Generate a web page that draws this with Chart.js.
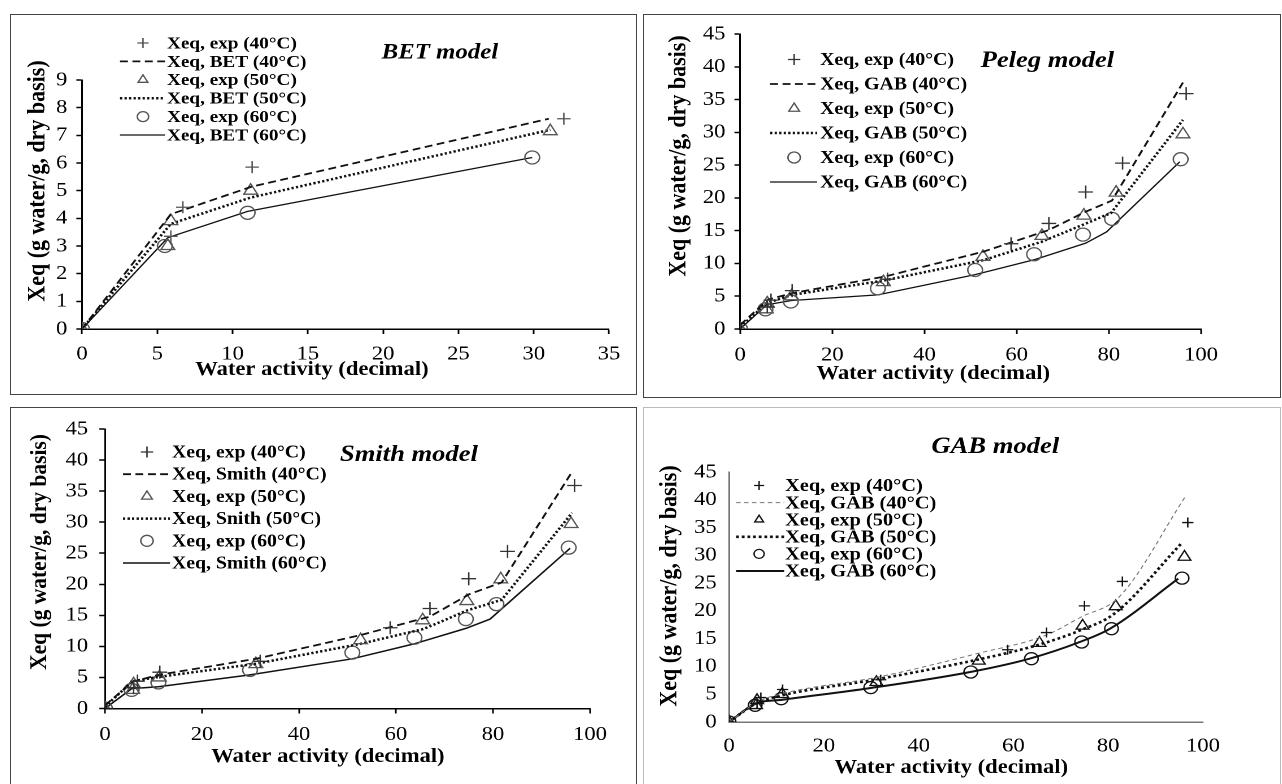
<!DOCTYPE html>
<html>
<head>
<meta charset="utf-8">
<script src="https://cdn.jsdelivr.net/npm/chart.js"></script>
<style>
body { margin: 0; background: #fff; width: 1282px; height: 784px; overflow: hidden; position: relative; }
canvas { position: absolute; }
.frame { position: absolute; box-sizing: border-box; pointer-events: none; }
</style>
</head>
<body>
<canvas id="betChart"></canvas>
<canvas id="pelegChart"></canvas>
<canvas id="smithChart"></canvas>
<canvas id="gabChart"></canvas>
<div class="frame" style="left:10px;top:14px;width:627px;height:381px;border:1.5px solid #444;"></div>
<div class="frame" style="left:643px;top:14px;width:638px;height:384px;border:1.5px solid #444;"></div>
<div class="frame" style="left:10px;top:407px;width:627px;height:383px;border:1.5px solid #444;"></div>
<div class="frame" style="left:643px;top:407px;width:638px;height:383px;border:1.5px solid #bbb;"></div>
<script>
// experimental points (same measurements in every panel)
const aw40 = [0, 5.9, 6.7, 11.3, 32, 58.8, 67, 75, 83, 96.8];
const xeq40 = [0, 3.35, 4.4, 5.85, 7.6, 13.0, 16.1, 20.9, 25.3, 35.9];
const aw50 = [0, 5.7, 5.9, 11.2, 31.1, 52.7, 65.5, 74.6, 81.6, 96.1];
const xeq50 = [0, 3.0, 3.9, 5.0, 7.15, 11.0, 14.2, 17.3, 20.8, 29.7];
const aw60 = [0, 5.5, 11.0, 29.9, 51.0, 63.8, 74.4, 80.7, 95.6];
const xeq60 = [0, 3.0, 4.2, 6.2, 9.0, 11.4, 14.4, 16.8, 25.9];

// BET model curves
const betAw40 = [0, 5.9, 11.3, 31];
const bet40 = [0, 4.15, 5.15, 7.6];
const betAw50 = [0, 5.9, 11.2, 31.1];
const bet50 = [0, 3.8, 4.75, 7.2];
const betAw60 = [0, 5.7, 11.0, 29.9];
const bet60 = [0, 3.3, 4.25, 6.2];

// Peleg model curves (labelled GAB in the figure)
const pelAw40 = [0, 6.1, 11.5, 31.4, 52.8, 67, 75, 80.7, 96.1];
const pel40 = [0.6, 4.5, 5.5, 8.0, 11.8, 15.1, 17.9, 19.6, 37.6];
const pelAw50 = [0, 6, 11.2, 31.2, 52.8, 65.4, 74.4, 80.5, 96.1];
const pel50 = [0.3, 4.0, 5.2, 7.4, 10.5, 13.3, 15.9, 17.7, 31.9];
const pelAw60 = [0, 5.8, 11.2, 29.9, 51, 64, 75, 79.5, 95.4];
const pel60 = [0, 3.7, 4.35, 5.2, 8.3, 10.6, 13.1, 14.8, 25.5];

// Smith model curves
const smAw40 = [0, 5.7, 11, 31.1, 52.6, 67, 75.1, 81.8, 96.3];
const sm40 = [0.5, 4.3, 5.4, 8.0, 11.8, 14.8, 18.4, 20.3, 38.1];
const smAw50 = [0, 5.7, 11.2, 31.1, 52.6, 65.7, 74.7, 81.8, 96.3];
const sm50 = [0.3, 4.4, 5.1, 7.2, 10.4, 12.8, 15.8, 17.5, 31.5];
const smAw60 = [0, 5.5, 11, 29.7, 51, 63.7, 74.4, 79.4, 95.9];
const sm60 = [0, 3.2, 3.5, 5.4, 8.0, 10.4, 12.9, 14.4, 25.8];

// GAB model curves
const gabAw40 = [0, 6, 11.2, 31.5, 52.3, 66.8, 74.3, 82.3, 96.3];
const gab40 = [0, 3.6, 5.1, 8.1, 12.3, 15.6, 18.9, 22.5, 40.6];
const gabAw50 = [0, 5.6, 11.2, 30.6, 52.3, 64.9, 74.1, 81.3, 95.4];
const gab50 = [0, 3.3, 4.8, 7.6, 11.2, 13.8, 16.5, 19.5, 32.1];
const gabAw60 = [0, 5.6, 11.2, 29.7, 50.9, 63.4, 74.0, 80.4, 94.8];
const gab60 = [0, 3.3, 4.0, 6.1, 9.0, 11.4, 14.4, 16.8, 25.8];

const SERIF = '"Liberation Serif", "Times New Roman", serif';
// the scanned figure is a little wider than tall, so each canvas is stretched sideways
const SX = 1.13;

function pts(xs, ys, maxX) {
    const out = [];
    xs.forEach((x, i) => { if (maxX === undefined || x <= maxX) out.push({ x: x, y: ys[i] }); });
    return out;
}

function drawMarker(ctx, style, x, y, r) {
    ctx.beginPath();
    if (style === "cross") {
        ctx.moveTo(x - r, y); ctx.lineTo(x + r, y);
        ctx.moveTo(x, y - r); ctx.lineTo(x, y + r);
    } else if (style === "triangle") {
        ctx.moveTo(x, y - r);
        ctx.lineTo(x + r * 0.866, y + r * 0.5);
        ctx.lineTo(x - r * 0.866, y + r * 0.5);
        ctx.closePath();
    } else {
        ctx.arc(x, y, r, 0, Math.PI * 2);
    }
    ctx.stroke();
}

// legend, model name and axis titles, positions given in page pixels
const panelText = {
    id: "panelText",
    afterDraw(chart, args, o) {
        const ctx = chart.ctx;
        const X = (px) => (px - o.box.x) / SX;
        const Y = (py) => py - o.box.y;
        ctx.save();
        ctx.fillStyle = "#000";
        ctx.textBaseline = "middle";

        // model name
        ctx.font = "italic bold " + o.titleSize + "px " + SERIF;
        ctx.textAlign = "center";
        ctx.fillText(o.title, X(o.titleX), Y(o.titleY));

        // axis titles
        ctx.font = "bold " + o.xTitleSize + "px " + SERIF;
        ctx.fillText("Water activity (decimal)", X(o.xTitleX), Y(o.xTitleY));
        ctx.save();
        ctx.font = "bold " + o.yTitleSize + "px " + SERIF;
        ctx.translate(X(o.yTitleX), Y(o.yTitleY));
        ctx.rotate(-Math.PI / 2);
        ctx.fillText("Xeq (g water/g, dry basis)", 0, 0);
        ctx.restore();

        // legend
        const lg = o.legend;
        ctx.font = "bold " + lg.size + "px " + SERIF;
        ctx.textAlign = "left";
        chart.data.datasets.forEach((ds, i) => {
            const y = Y(lg.y + i * lg.rowH);
            ctx.save();
            ctx.strokeStyle = ds.borderColor;
            if (ds.showLine) {
                ctx.lineWidth = ds.borderWidth;
                ctx.setLineDash(ds.borderDash || []);
                ctx.beginPath();
                ctx.moveTo(X(lg.lineX0), y);
                ctx.lineTo(X(lg.lineX1), y);
                ctx.stroke();
            } else {
                ctx.lineWidth = ds.pointBorderWidth;
                drawMarker(ctx, ds.pointStyle, X(lg.markerX), y, lg.markerR);
            }
            ctx.restore();
            ctx.fillText(ds.label, X(lg.textX), y + 1);
        });
        ctx.restore();
    },
};

function expSet(label, data, style, r, color) {
    return {
        label: label, data: data, showLine: false,
        pointStyle: style, pointRadius: r, pointBorderWidth: 1.3,
        pointBorderColor: color, borderColor: color, backgroundColor: "rgba(0,0,0,0)",
    };
}

function modelSet(label, data, dash, width, color, smooth) {
    return {
        label: label, data: data, showLine: true, pointRadius: 0,
        borderColor: color, borderWidth: width, borderDash: dash,
        cubicInterpolationMode: smooth ? "monotone" : "default", tension: 0,
    };
}

function makeChart(cfg) {
    const canvas = document.getElementById(cfg.id);
    const box = cfg.box, plot = cfg.plot;
    canvas.style.left = box.x + "px";
    canvas.style.top = box.y + "px";
    canvas.style.width = box.w + "px";
    canvas.style.height = box.h + "px";
    canvas.width = Math.round(box.w / SX);
    canvas.height = box.h;

    const xAxisH = 40;
    const axisColor = cfg.axisColor;
    new Chart(canvas, {
        type: "scatter",
        data: { datasets: cfg.datasets },
        options: {
            responsive: false,
            animation: false,
            devicePixelRatio: 2,
            events: [],
            layout: {
                padding: {
                    left: 0,
                    top: plot.t - box.y,
                    right: (box.x + box.w - plot.r) / SX,
                    bottom: box.y + box.h - plot.b - xAxisH,
                },
            },
            scales: {
                x: {
                    type: "linear", min: 0, max: cfg.xMax,
                    afterFit: (s) => { s.height = xAxisH; },
                    border: { display: true, color: axisColor, width: cfg.axisWidth },
                    grid: { drawOnChartArea: false, drawTicks: cfg.ticks, tickLength: 5, tickColor: axisColor, tickWidth: cfg.axisWidth },
                    ticks: { stepSize: cfg.xStep, color: "#000", padding: cfg.xPad, maxRotation: 0, font: { family: SERIF, size: 20 } },
                },
                y: {
                    type: "linear", min: 0, max: cfg.yMax,
                    afterFit: (s) => { s.width = (plot.l - box.x) / SX; },
                    border: { display: true, color: axisColor, width: cfg.axisWidth },
                    grid: { drawOnChartArea: false, drawTicks: cfg.ticks, tickLength: 5, tickColor: axisColor, tickWidth: cfg.axisWidth },
                    ticks: { stepSize: cfg.yStep, color: "#000", padding: cfg.yPad, font: { family: SERIF, size: 20 } },
                },
            },
            plugins: {
                legend: { display: false },
                tooltip: { enabled: false },
                panelText: Object.assign({ box: box }, cfg.text),
            },
        },
        plugins: [panelText],
    });
}

const grey = "#555";
const black = "#111";

const panels = [
    {
        id: "betChart",
        box: { x: 10, y: 14, w: 627, h: 381 },
        plot: { l: 82, r: 609, t: 80, b: 329 },
        xMax: 35, xStep: 5, yMax: 9, yStep: 1, xPad: 8, yPad: 8, ticks: true, axisColor: "#000", axisWidth: 1.5,
        datasets: [
            expSet("Xeq, exp (40°C)", pts(aw40, xeq40, 35), "cross", 6, grey),
            modelSet("Xeq, BET (40°C)", pts(betAw40, bet40), [7, 4], 1.8, black),
            expSet("Xeq, exp (50°C)", pts(aw50, xeq50, 35), "triangle", 7, grey),
            modelSet("Xeq, BET (50°C)", pts(betAw50, bet50), [2, 2], 2.5, black),
            expSet("Xeq, exp (60°C)", pts(aw60, xeq60, 35), "circle", 6.5, grey),
            modelSet("Xeq, BET (60°C)", pts(betAw60, bet60), [], 1.3, black),
        ],
        text: {
            title: "BET model", titleX: 440, titleY: 53, titleSize: 22,
            xTitleSize: 20, xTitleX: 312, xTitleY: 370, yTitleSize: 22, yTitleX: 38, yTitleY: 181,
            legend: { y: 43, rowH: 18.4, size: 17, textX: 167, markerX: 143, markerR: 5, lineX0: 120, lineX1: 165 },
        },
    },
    {
        id: "pelegChart",
        box: { x: 643, y: 14, w: 639, h: 384 },
        plot: { l: 740, r: 1201, t: 33, b: 329 },
        xMax: 100, xStep: 20, yMax: 45, yStep: 5, xPad: 9, yPad: 8, ticks: true, axisColor: "#000", axisWidth: 1.5,
        datasets: [
            expSet("Xeq, exp (40°C)", pts(aw40, xeq40), "cross", 6.5, "#333"),
            modelSet("Xeq, GAB (40°C)", pts(pelAw40, pel40), [7, 4], 1.8, black),
            expSet("Xeq, exp (50°C)", pts(aw50, xeq50), "triangle", 7, grey),
            modelSet("Xeq, GAB (50°C)", pts(pelAw50, pel50), [2, 2], 2.5, black),
            expSet("Xeq, exp (60°C)", pts(aw60, xeq60), "circle", 6.5, grey),
            modelSet("Xeq, GAB (60°C)", pts(pelAw60, pel60), [], 1.3, black),
        ],
        text: {
            title: "Peleg model", titleX: 1047, titleY: 61, titleSize: 23.5,
            xTitleSize: 20, xTitleX: 933, xTitleY: 374, yTitleSize: 22, yTitleX: 679, yTitleY: 156,
            legend: { y: 59.5, rowH: 24.5, size: 17.5, textX: 820, markerX: 794, markerR: 5.5, lineX0: 770, lineX1: 817 },
        },
    },
    {
        id: "smithChart",
        box: { x: 10, y: 407, w: 627, h: 377 },
        plot: { l: 105, r: 590, t: 426.5, b: 708.5 },
        xMax: 100, xStep: 20, yMax: 45, yStep: 5, xPad: 9, yPad: 10, ticks: true, axisColor: "#000", axisWidth: 1.5,
        datasets: [
            expSet("Xeq, exp (40°C)", pts(aw40, xeq40), "cross", 6.5, "#333"),
            modelSet("Xeq, Smith (40°C)", pts(smAw40, sm40), [7, 4], 1.8, black),
            expSet("Xeq, exp (50°C)", pts(aw50, xeq50), "triangle", 7, grey),
            modelSet("Xeq, Snith (50°C)", pts(smAw50, sm50), [2, 2], 2.5, black),
            expSet("Xeq, exp (60°C)", pts(aw60, xeq60), "circle", 6.5, grey),
            modelSet("Xeq, Smith (60°C)", pts(smAw60, sm60), [], 1.5, black),
        ],
        text: {
            title: "Smith model", titleX: 409, titleY: 455, titleSize: 23.5,
            xTitleSize: 20, xTitleX: 328, xTitleY: 757, yTitleSize: 21.5, yTitleX: 40, yTitleY: 552,
            legend: { y: 452, rowH: 22.2, size: 17.5, textX: 172, markerX: 147, markerR: 5.5, lineX0: 123, lineX1: 170 },
        },
    },
    {
        id: "gabChart",
        box: { x: 643, y: 407, w: 639, h: 377 },
        plot: { l: 729, r: 1203, t: 472, b: 722 },
        xMax: 100, xStep: 20, yMax: 45, yStep: 5, xPad: 12, yPad: 11, ticks: false, axisColor: "#777", axisWidth: 1.5,
        datasets: [
            expSet("Xeq, exp (40°C)", pts(aw40, xeq40), "cross", 5, black),
            modelSet("Xeq, GAB (40°C)", pts(gabAw40, gab40), [4, 3], 1, "#777", true),
            expSet("Xeq, exp (50°C)", pts(aw50, xeq50), "triangle", 6.5, black),
            modelSet("Xeq, GAB (50°C)", pts(gabAw50, gab50), [2.5, 2.5], 2.6, black, true),
            expSet("Xeq, exp (60°C)", pts(aw60, xeq60), "circle", 6, black),
            modelSet("Xeq, GAB (60°C)", pts(gabAw60, gab60), [], 2, black, true),
        ],
        text: {
            title: "GAB model", titleX: 995, titleY: 447, titleSize: 23.5,
            xTitleSize: 20, xTitleX: 951, xTitleY: 768, yTitleSize: 22, yTitleX: 670, yTitleY: 586,
            legend: { y: 485.5, rowH: 17.1, size: 18, textX: 785, markerX: 759, markerR: 4.5, lineX0: 736, lineX1: 784 },
        },
    },
];

document.addEventListener("DOMContentLoaded", function () {
    if (typeof Chart === "undefined") {
        console.error("Chart.js is not loaded");
        return;
    }
    panels.forEach(makeChart);
});
</script>
</body>
</html>
